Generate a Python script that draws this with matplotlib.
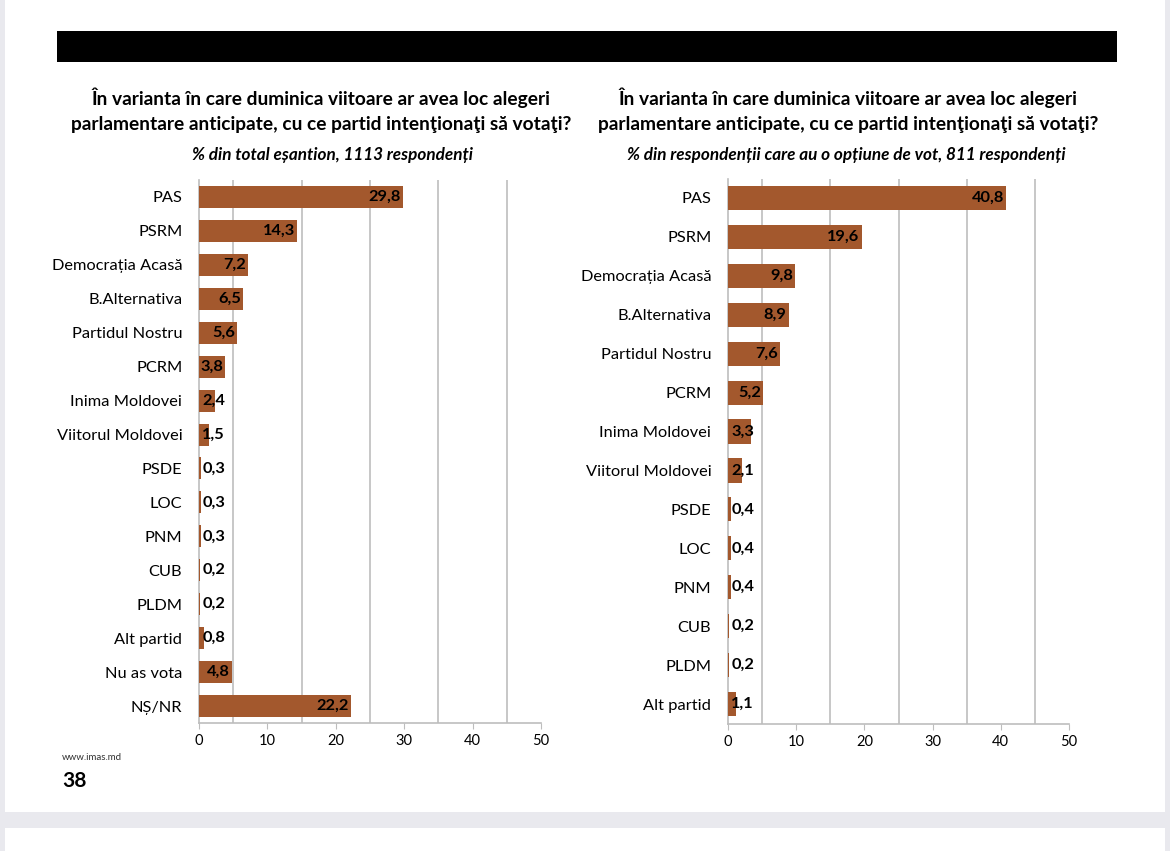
import matplotlib.pyplot as plt
from matplotlib.patches import Rectangle

plt.rcParams['font.family'] = ['Lato', 'DejaVu Sans']

# left chart: % of total sample
parties_left = ["PAS", "PSRM", "Democrația Acasă", "B.Alternativa", "Partidul Nostru",
                "PCRM", "Inima Moldovei", "Viitorul Moldovei", "PSDE", "LOC", "PNM",
                "CUB", "PLDM", "Alt partid", "Nu as vota", "NȘ/NR"]
values_left = [29.8, 14.3, 7.2, 6.5, 5.6, 3.8, 2.4, 1.5, 0.3, 0.3, 0.3, 0.2, 0.2, 0.8, 4.8, 22.2]

# right chart: % of respondents with a voting option
parties_right = ["PAS", "PSRM", "Democrația Acasă", "B.Alternativa", "Partidul Nostru",
                 "PCRM", "Inima Moldovei", "Viitorul Moldovei", "PSDE", "LOC", "PNM",
                 "CUB", "PLDM", "Alt partid"]
values_right = [40.8, 19.6, 9.8, 8.9, 7.6, 5.2, 3.3, 2.1, 0.4, 0.4, 0.4, 0.2, 0.2, 1.1]

title = "În varianta în care duminica viitoare ar avea loc alegeri\nparlamentare anticipate, cu ce partid intenţionaţi să votaţi?"
sub_left = "% din total eșantion, 1113 respondenți"
sub_right = "% din respondenții care au o opțiune de vot, 811 respondenți"

BAR = "#A3582D"
GRID = "#BDBDBD"

fig = plt.figure(figsize=(11.7, 8.51), dpi=100)
fig.patch.set_facecolor("#E9E9EE")

# page backgrounds
fig.patches.append(Rectangle((5 / 1170, 1 - 812 / 851), 1160 / 1170, 812 / 851,
                             transform=fig.transFigure, facecolor="white", edgecolor="none", zorder=-10))
fig.patches.append(Rectangle((5 / 1170, 0), 1160 / 1170, 23 / 851,
                             transform=fig.transFigure, facecolor="white", edgecolor="none", zorder=-10))
# black header band
fig.patches.append(Rectangle((57 / 1170, 1 - 62 / 851), 1060 / 1170, 31 / 851,
                             transform=fig.transFigure, facecolor="black", edgecolor="none", zorder=-5))


def bar_chart(rect, labels, values, subtitle, title_x, sub_x, height):
    ax = fig.add_axes(rect)
    y = list(range(len(labels)))
    ax.barh(y, values, height=height, color=BAR, zorder=3)
    ax.set_ylim(len(labels) - 0.5, -0.5)
    ax.set_xlim(0, 50)
    ax.set_xticks([0, 10, 20, 30, 40, 50])
    ax.set_yticks(y)
    ax.set_yticklabels(labels, fontsize=11.8)
    ax.tick_params(axis="y", length=0, pad=12)
    ax.tick_params(axis="x", length=4, color=GRID, labelsize=10.5, pad=4)
    for g in [5, 15, 25, 35, 45]:
        ax.axvline(g, color=GRID, lw=1.2, zorder=1)
    for s in ["top", "right"]:
        ax.spines[s].set_visible(False)
    ax.spines["left"].set_color(GRID)
    ax.spines["bottom"].set_color(GRID)
    ax.spines["left"].set_linewidth(1.2)
    ax.spines["bottom"].set_linewidth(1.2)
    for yi, v in zip(y, values):
        txt = f"{v:.1f}".replace(".", ",")
        if v >= 3.5:
            ax.text(v - 0.3, yi, txt, ha="right", va="center", fontsize=11.8,
                    fontweight="bold", zorder=4)
        else:
            ax.text(0.5, yi, txt, ha="left", va="center", fontsize=11.8,
                    fontweight="bold", zorder=4)
    fig.text(title_x / 1170, 1 - 110.5 / 851, title, ha="center", va="center",
             fontsize=13.8, fontweight="bold", linespacing=1.6)
    fig.text(sub_x / 1170, 1 - 155 / 851, subtitle, ha="center", va="center",
             fontsize=12.3, fontweight="bold", style="italic")
    return ax


bar_chart([199 / 1170, 128 / 851, 342 / 1170, 543 / 851], parties_left, values_left,
          sub_left, 321, 333, 0.65)
bar_chart([728 / 1170, 127.5 / 851, 341 / 1170, 545 / 851], parties_right, values_right,
          sub_right, 848, 846, 0.62)

fig.text(62 / 1170, 1 - 757 / 851, "www.imas.md", fontsize=7, color="#333333", va="center")
fig.text(62 / 1170, 1 - 781 / 851, "38", fontsize=15, fontweight="bold", va="center")

fig.savefig("out.png", dpi=100, facecolor=fig.get_facecolor())
